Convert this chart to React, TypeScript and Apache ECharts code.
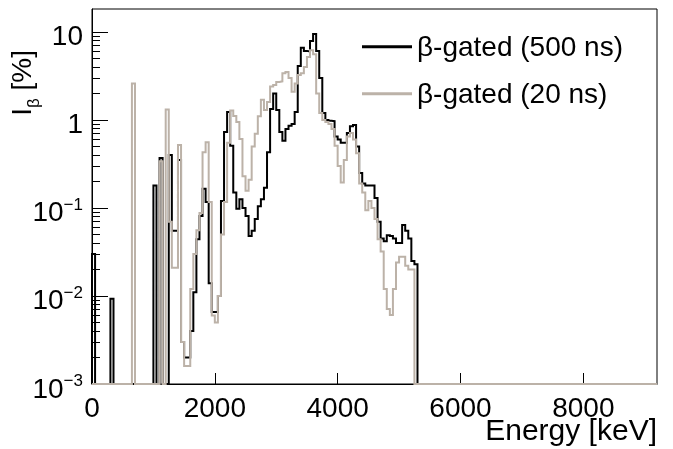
import React, { useEffect, useRef } from 'react';
import * as echarts from 'echarts';

// ---- axis definitions ----
const BIN_WIDTH = 50; // keV per histogram bin
const Y_FLOOR = 0.001;
const Y_MAX = 18.25;
const X_MAX = 9200;
const X_TICKS = [0, 2000, 4000, 6000, 8000];
const Y_TICKS = [0.001, 0.01, 0.1, 1, 10];
const Y_MINOR_TICKS = [
  0.002, 0.003, 0.004, 0.005, 0.006, 0.007, 0.008, 0.009,
  0.02, 0.03, 0.04, 0.05, 0.06, 0.07, 0.08, 0.09,
  0.2, 0.3, 0.4, 0.5, 0.6, 0.7, 0.8, 0.9,
  2, 3, 4, 5, 6, 7, 8, 9,
];

const SERIES_NAMES = ['β-gated (500 ns)', 'β-gated (20 ns)'];
const X_TITLE = 'Energy [keV]';

// ---- histogram contents (I_beta in %, one value per 50 keV bin starting at 0 keV; 0 = empty) ----
const GATED_500NS = [
  0.03, 0, 0, 0, 0, 0, 0.0093, 0, 0, 0,
  0, 0, 0, 0, 0, 0, 0, 0, 0, 0,
  0.18, 0, 0.37, 0, 0, 0.40, 0.055, 0.055, 0.35, 0.003,
  0.002, 0.002, 0.004, 0.011, 0.044, 0.081, 0.165, 0.117, 0.014, 0.0066,
  0.0066, 0.010, 0.12, 0.73, 1.23, 0.51, 0.15, 0.098, 0.126, 0.1,
  0.081, 0.048, 0.055, 0.075, 0.105, 0.126, 0.17, 0.43, 1.33, 2.0,
  1.3, 0.73, 0.58, 0.79, 0.86, 0.9, 1.23, 4.1, 6.6, 6.1,
  6.0, 7.9, 9.5, 6.1, 3.0, 1.2, 1.0, 0.98, 0.97, 0.65,
  0.6, 0.55, 0.55, 0.71, 0.85, 0.88, 0.5, 0.25, 0.19, 0.18,
  0.18, 0.18, 0.13, 0.07, 0.045, 0.042, 0.049, 0.048, 0.045, 0.040,
  0.040, 0.064, 0.055, 0.045, 0.025, 0.023,
];

const GATED_20NS = [
  0, 0, 0, 0, 0, 0, 0, 0, 0, 0,
  0, 0, 0, 2.6, 0, 0, 0, 0, 0, 0,
  0, 0, 0.34, 0, 1.32, 0.07, 0.021, 0.021, 0.52, 0.003,
  0.0016, 0.0016, 0.012, 0.03, 0.056, 0.088, 0.43, 0.56, 0.117, 0.006,
  0.005, 0.01, 0.05, 0.117, 0.55, 1.28, 1.11, 0.95, 0.61, 0.23,
  0.157, 0.21, 0.5, 0.7, 1.1, 1.7, 1.3, 1.6, 2.4, 2.5,
  2.7, 2.75, 3.4, 3.5, 3.0, 2.1, 2.6, 3.25, 3.4, 4.0,
  5.2, 6.2, 5.6, 2.0, 1.2, 1.0, 0.95, 0.9, 0.79, 0.51,
  0.3, 0.195, 0.35, 0.65, 0.71, 0.6, 0.42, 0.19, 0.15, 0.094,
  0.12, 0.1, 0.075, 0.044, 0.032, 0.012, 0.0071, 0.0061, 0.012, 0.024,
  0.028, 0.028, 0.022, 0.02, 0.02,
];

const COLOR_500 = '#000000';
const COLOR_20 = '#bcb2a8';
const FONT = '"Liberation Sans", Arial, Helvetica, sans-serif';

function toSteps(values: number[]): number[][] {
  const pts: number[][] = [[0, Y_FLOOR]];
  values.forEach((v, i) => pts.push([i * BIN_WIDTH, v > 0 ? v : Y_FLOOR]));
  pts.push([values.length * BIN_WIDTH, Y_FLOOR]);
  pts.push([X_MAX, Y_FLOOR]);
  return pts;
}

function yLabel(v: number): string {
  const e = Math.round(Math.log10(v));
  if (e === 1) return '{b|10}';
  if (e === 0) return '{b|1}';
  return '{b|10}{s|\u2212' + -e + '}';
}

export default function App() {
  const ref = useRef<HTMLDivElement>(null);

  useEffect(() => {
    if (!ref.current) return;
    const chart = echarts.init(ref.current, undefined, { renderer: 'svg' });
    const series = [
      { name: SERIES_NAMES[0], data: toSteps(GATED_500NS), color: COLOR_500 },
      { name: SERIES_NAMES[1], data: toSteps(GATED_20NS), color: COLOR_20 },
    ].map((s) => ({
      type: 'line' as const,
      name: s.name,
      data: s.data,
      step: 'end' as const,
      showSymbol: false,
      symbol: 'none',
      clip: false,
      color: s.color,
      itemStyle: { color: s.color },
      lineStyle: { color: s.color, width: 2, join: 'miter' as const, cap: 'butt' as const },
      yAxisIndex: 0,
    }));

    chart.setOption({
      animation: false,
      textStyle: { fontFamily: FONT },
      grid: {
        left: 92, right: 16, top: 9, bottom: 65,
        show: true, borderColor: '#000', borderWidth: 1, backgroundColor: 'transparent',
      },
      legend: {
        data: SERIES_NAMES,
        orient: 'vertical',
        left: 362,
        top: 31.7,
        padding: 0,
        itemWidth: 50,
        itemHeight: 3,
        itemGap: 17,
        icon: 'rect',
        textStyle: { fontSize: 28, lineHeight: 30, color: '#000', fontFamily: FONT },
      },
      xAxis: {
        type: 'value',
        min: 0,
        max: X_MAX,
        axisLine: { show: true, lineStyle: { color: '#000', width: 1 } },
        axisTick: { show: true, inside: true, length: 11, customValues: X_TICKS, lineStyle: { color: '#000', width: 1 } },
        axisLabel: {
          customValues: X_TICKS,
          formatter: (v: number) => String(v),
          fontSize: 28,
          lineHeight: 22,
          margin: 12,
          color: '#000',
          fontFamily: FONT,
        },
        splitLine: { show: false },
      },
      yAxis: [
        {
          type: 'log',
          logBase: 10,
          min: Y_FLOOR,
          max: Y_MAX,
          axisLine: { show: true, lineStyle: { color: '#000', width: 1 } },
          axisTick: { show: true, inside: true, length: 16, customValues: Y_TICKS, lineStyle: { color: '#000', width: 1 } },
          axisLabel: {
            customValues: Y_TICKS,
            margin: 9,
            padding: [8, 0, 0, 0],
            formatter: yLabel,
            rich: {
              b: { fontSize: 28, lineHeight: 32, align: 'right', color: '#000', fontFamily: FONT },
              s: { fontSize: 17, lineHeight: 17, align: 'right', verticalAlign: 'top', color: '#000', fontFamily: FONT },
            },
          },
          splitLine: { show: false },
          minorTick: { show: false },
        },
        {
          type: 'log',
          logBase: 10,
          min: Y_FLOOR,
          max: Y_MAX,
          position: 'left',
          offset: 0,
          axisLine: { show: false },
          axisTick: { show: true, inside: true, length: 8, customValues: Y_MINOR_TICKS, lineStyle: { color: '#000', width: 1 } },
          axisLabel: { show: false },
          splitLine: { show: false },
        },
      ],
      graphic: [
        {
          type: 'text',
          x: 657,
          y: 429,
          style: {
            text: X_TITLE,
            fontSize: 30,
            lineHeight: 22,
            fontFamily: FONT,
            fill: '#000',
            align: 'right',
            verticalAlign: 'middle',
            textAlign: 'right',
            textVerticalAlign: 'middle',
          },
        },
        {
          type: 'text',
          x: 21.5,
          y: 50,
          rotation: Math.PI / 2,
          style: {
            text: '{i|I}{s|β}{t| [%]}',
            fontSize: 28,
            fontFamily: FONT,
            fill: '#000',
            align: 'right',
            verticalAlign: 'middle',
            textAlign: 'right',
            textVerticalAlign: 'middle',
            rich: {
              i: { fontSize: 28, lineHeight: 28, verticalAlign: 'top', fontFamily: FONT, fill: '#000' },
              t: { fontSize: 28, lineHeight: 28, verticalAlign: 'top', fontFamily: FONT, fill: '#000' },
              s: { fontSize: 17, lineHeight: 17, padding: [17, 0, 0, 0], verticalAlign: 'top', fontFamily: FONT, fill: '#000' },
            },
          },
        },
      ],
      series,
    });
    return () => chart.dispose();
  }, []);

  return <div ref={ref} style={{ position: 'fixed', left: 0, top: 0, width: 673, height: 449 }} />;
}
